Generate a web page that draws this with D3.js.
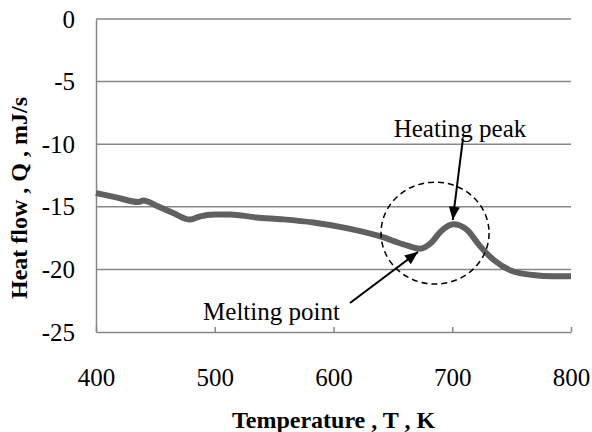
<!DOCTYPE html>
<html>
<head>
<meta charset="utf-8">
<script src="https://cdn.jsdelivr.net/npm/d3@7"></script>
<style>
  body { margin: 0; background: #fff; }
  text { font-family: "Liberation Serif", "Times New Roman", serif; fill: #000; }
</style>
</head>
<body>
<svg id="chart" width="592" height="432"></svg>
<script>
// temperature (K) and heat flow (mJ/s)
var temperature = [400, 417, 436, 440, 451, 465, 479, 487, 500, 513, 535, 557, 583, 611, 639, 659, 673, 682, 690, 701, 712, 723, 735, 751, 768, 785, 800];
var heatFlow = [-13.9, -14.25, -14.62, -14.5, -14.92, -15.5, -16.02, -15.78, -15.62, -15.62, -15.85, -16.0, -16.25, -16.7, -17.35, -18.0, -18.35, -17.9, -17.0, -16.4, -16.8, -18.1, -19.25, -20.15, -20.45, -20.55, -20.55];
var xTicks = [400, 500, 600, 700, 800];
var yTicks = [0, -5, -10, -15, -20, -25];

var svg = d3.select('#chart');
var margin = { top: 19, right: 21, bottom: 100, left: 96 };
var width = 592 - margin.left - margin.right,
  height = 432 - margin.top - margin.bottom;

var x = d3.scaleLinear().domain([400, 800]).range([0, width]);
var y = d3.scaleLinear().domain([-25, 0]).range([height, 0]);

var g = svg.append('g').attr('transform', 'translate(' + margin.left + ',' + margin.top + ')');

// gridlines
g.selectAll('.grid')
  .data(yTicks.filter(function(d) { return d !== -25; }))
  .enter().append('line')
  .attr('x1', 0).attr('x2', width)
  .attr('y1', function(d) { return y(d); })
  .attr('y2', function(d) { return y(d); })
  .attr('stroke', '#878787')
  .attr('stroke-width', 1.5);

// plain hyphen minus, as in the original
var fmt = function(d) { return String(d); };

// y axis
var yAxis = g.append('g').call(d3.axisLeft(y).tickValues(yTicks).tickSize(0).tickPadding(21).tickFormat(fmt));
yAxis.attr('font-family', 'Liberation Serif, serif').attr('font-size', 25);
yAxis.select('.domain').attr('stroke', '#878787').attr('stroke-width', 1.5);

// x axis with inside ticks
var xAxis = g.append('g').attr('transform', 'translate(0,' + height + ')')
  .call(d3.axisBottom(x).tickValues(xTicks).tickSizeInner(-5).tickSizeOuter(0).tickPadding(36).tickFormat(fmt));
xAxis.attr('font-family', 'Liberation Serif, serif').attr('font-size', 25);
xAxis.select('.domain').attr('stroke', '#878787').attr('stroke-width', 1.5);
xAxis.selectAll('.tick line').attr('stroke', '#878787').attr('stroke-width', 1.5);

// data line
var line = d3.line()
  .x(function(d, i) { return x(temperature[i]); })
  .y(function(d) { return y(d); })
  .curve(d3.curveMonotoneX);

g.append('path')
  .datum(heatFlow)
  .attr('d', line)
  .attr('fill', 'none')
  .attr('stroke', '#606060')
  .attr('stroke-width', 6)
  .attr('stroke-linejoin', 'round');

// dashed circle round the peak
g.append('ellipse')
  .attr('cx', x(685.5))
  .attr('cy', y(-17.1))
  .attr('rx', x(731) - x(685.5))
  .attr('ry', y(-21.17) - y(-17.1))
  .attr('fill', 'none')
  .attr('stroke', '#000')
  .attr('stroke-width', 1.5)
  .attr('stroke-dasharray', '6,4');

// arrows
svg.append('defs').append('marker')
  .attr('id', 'head')
  .attr('viewBox', '0 0 12 10')
  .attr('refX', 12).attr('refY', 5)
  .attr('markerWidth', 14).attr('markerHeight', 11)
  .attr('markerUnits', 'userSpaceOnUse')
  .attr('orient', 'auto')
  .append('path').attr('d', 'M0,0L12,5L0,10Z').attr('fill', '#000');

var arrows = [
  { x1: 709, y1: -9.58, x2: 700.4, y2: -16.05 },
  { x1: 613.9, y1: -22.68, x2: 671.2, y2: -18.6 }
];
g.selectAll('.arrow')
  .data(arrows)
  .enter().append('line')
  .attr('x1', function(d) { return x(d.x1); })
  .attr('y1', function(d) { return y(d.y1); })
  .attr('x2', function(d) { return x(d.x2); })
  .attr('y2', function(d) { return y(d.y2); })
  .attr('stroke', '#000')
  .attr('stroke-width', 2)
  .attr('marker-end', 'url(#head)');

g.append('text')
  .attr('x', x(706.5)).attr('y', y(-9.4))
  .attr('text-anchor', 'middle')
  .style('font-size', '25px')
  .text('Heating peak');

g.append('text')
  .attr('x', x(547.8)).attr('y', y(-24.04))
  .attr('text-anchor', 'middle')
  .style('font-size', '25px')
  .text('Melting point');

// axis titles
svg.append('text')
  .attr('x', margin.left + width / 2).attr('y', 428)
  .attr('text-anchor', 'middle')
  .style('font-size', '24px').style('font-weight', 'bold')
  .text('Temperature , T , K');

svg.append('text')
  .attr('transform', 'translate(27,198) rotate(-90)')
  .attr('text-anchor', 'middle')
  .style('font-size', '24px').style('font-weight', 'bold')
  .text('Heat flow , Q , mJ/s');
</script>
</body>
</html>
